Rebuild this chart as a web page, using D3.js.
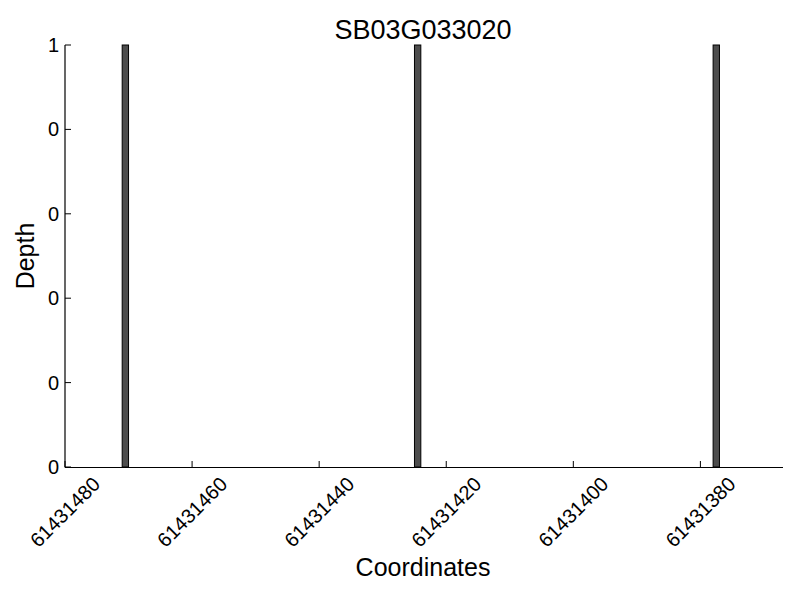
<html>
<head>
  <meta charset="utf-8">
  <title>SB03G033020</title>
  <script src="https://d3js.org/d3.v7.min.js"></script>
</head>
<style type="text/css">
  html, body { margin:0; padding:0; background:#fff; overflow:hidden }
  text { font-family: "Liberation Sans", Arial, sans-serif; fill: #000 }
</style>
<body>
  <svg width="800" height="600"></svg>
  <script>
  const title = "SB03G033020";
  const positions = [61431470, 61431424, 61431377];
  const depths = [1, 1, 1];
  const xTicks = [61431480, 61431460, 61431440, 61431420, 61431400, 61431380];
  const yTicks = [0, 0.2, 0.4, 0.6, 0.8, 1];

  const svg = d3.select("svg");
  const mLeft = 65, mRight = 783, mTop = 45, mBottom = 467;

  // axis runs from high to low coordinate
  const x = d3.scaleLinear().domain([61431480, 61431367]).range([mLeft, mRight]);
  const y = d3.scaleLinear().domain([0, 1]).range([mBottom, mTop]);

  svg.selectAll("rect.bar")
    .data(positions)
    .enter()
    .append("rect")
    .attr("class", "bar")
    .attr("x", (d, i) => x(d + 1))
    .attr("width", d => x(d) - x(d + 1))
    .attr("y", (d, i) => y(depths[i]))
    .attr("height", (d, i) => y(0) - y(depths[i]))
    .attr("fill", "#4d4d4d")
    .attr("stroke", "#000")
    .attr("stroke-width", 1);

  // spines
  svg.append("line")
    .attr("x1", mLeft).attr("x2", mLeft).attr("y1", mTop).attr("y2", mBottom + 0.5)
    .attr("stroke", "#000").attr("stroke-width", 1.2);
  svg.append("line")
    .attr("x1", mLeft).attr("x2", mRight).attr("y1", mBottom + 0.5).attr("y2", mBottom + 0.5)
    .attr("stroke", "#000").attr("stroke-width", 1.2);

  // y ticks point inward
  svg.selectAll("line.ytick")
    .data(yTicks)
    .enter()
    .append("line")
    .attr("x1", mLeft).attr("x2", mLeft + 6)
    .attr("y1", d => y(d)).attr("y2", d => y(d))
    .attr("stroke", "#000");

  svg.selectAll("text.ytick")
    .data(yTicks)
    .enter()
    .append("text")
    .attr("x", mLeft - 6)
    .attr("y", d => y(d))
    .attr("text-anchor", "end")
    .attr("dominant-baseline", "central")
    .style("font-size", "20px")
    .text(d => Math.trunc(d));

  svg.selectAll("line.xtick")
    .data(xTicks)
    .enter()
    .append("line")
    .attr("x1", d => x(d)).attr("x2", d => x(d))
    .attr("y1", mBottom).attr("y2", mBottom - 6)
    .attr("stroke", "#000");

  svg.selectAll("text.xtick")
    .data(xTicks)
    .enter()
    .append("text")
    .attr("transform", d => `translate(${x(d)},512) rotate(-45)`)
    .attr("text-anchor", "middle")
    .attr("dominant-baseline", "central")
    .style("font-size", "20px")
    .text(d => d);

  svg.append("text")
    .attr("x", (mLeft + mRight) / 2 - 1)
    .attr("y", 39)
    .attr("text-anchor", "middle")
    .style("font-size", "27px")
    .text(title);

  svg.append("text")
    .attr("x", (mLeft + mRight) / 2 - 1)
    .attr("y", 576)
    .attr("text-anchor", "middle")
    .style("font-size", "25px")
    .text("Coordinates");

  svg.append("text")
    .attr("transform", `translate(34,${(mTop + mBottom) / 2}) rotate(-90)`)
    .attr("text-anchor", "middle")
    .style("font-size", "25px")
    .text("Depth");
  </script>
</body>
</html>
